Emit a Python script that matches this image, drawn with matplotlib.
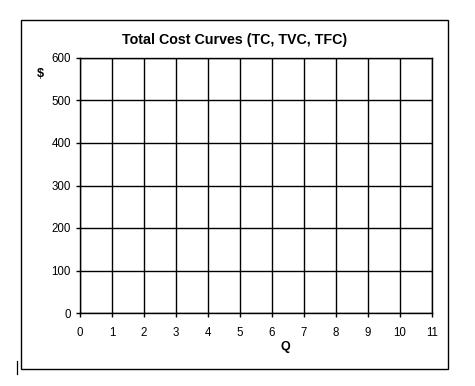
import matplotlib
matplotlib.use("Agg")
import matplotlib.pyplot as plt
from matplotlib.patches import Rectangle
from matplotlib.lines import Line2D

title = "Total Cost Curves (TC, TVC, TFC)"
x_label = "Q"
y_label = "$"
x_ticks = [0, 1, 2, 3, 4, 5, 6, 7, 8, 9, 10, 11]
y_ticks = [0, 100, 200, 300, 400, 500, 600]

plt.rcParams['font.family'] = ['Liberation Sans', 'DejaVu Sans']

W, H = 475, 386
fig = plt.figure(figsize=(W / 100, H / 100), dpi=100)

def fx(px):
    return px / W

def fy(py):
    return 1 - py / H

# outer frame
fig.patches.append(Rectangle((fx(21), fy(369)), fx(448) - fx(21), fy(20) - fy(369),
                             transform=fig.transFigure, fill=False, edgecolor='black',
                             linewidth=1.0))
# cursor artifact
fig.lines.append(Line2D([fx(16.5), fx(16.5)], [fy(361), fy(374)], transform=fig.transFigure,
                        color='black', linewidth=0.9))

ax = fig.add_axes([fx(80), fy(313), fx(432) - fx(80), fy(58) - fy(313)])
ax.set_xlim(x_ticks[0], x_ticks[-1])
ax.set_ylim(y_ticks[0], y_ticks[-1])
ax.set_xticks(x_ticks)
ax.set_yticks(y_ticks)
ax.set_xticklabels([str(v) for v in x_ticks], fontsize=8.3)
ax.set_yticklabels([str(v) for v in y_ticks], fontsize=8.3)
ax.tick_params(axis='x', direction='out', length=3, width=1, pad=7, colors='black')
ax.tick_params(axis='y', direction='out', length=3, width=1, pad=3.5, colors='black')
ax.grid(True, color='black', linewidth=1.0)
for s in ax.spines.values():
    s.set_color('black')
    s.set_linewidth(1.0)

fig.text(fx(235), fy(40), title, ha='center', va='center', fontsize=10.3, fontweight='bold')
fig.text(fx(285), fy(347), x_label, ha='center', va='center', fontsize=9, fontweight='bold')
fig.text(fx(40), fy(74), y_label, ha='center', va='center', fontsize=9, fontweight='bold')

fig.savefig("out.png", dpi=100)
